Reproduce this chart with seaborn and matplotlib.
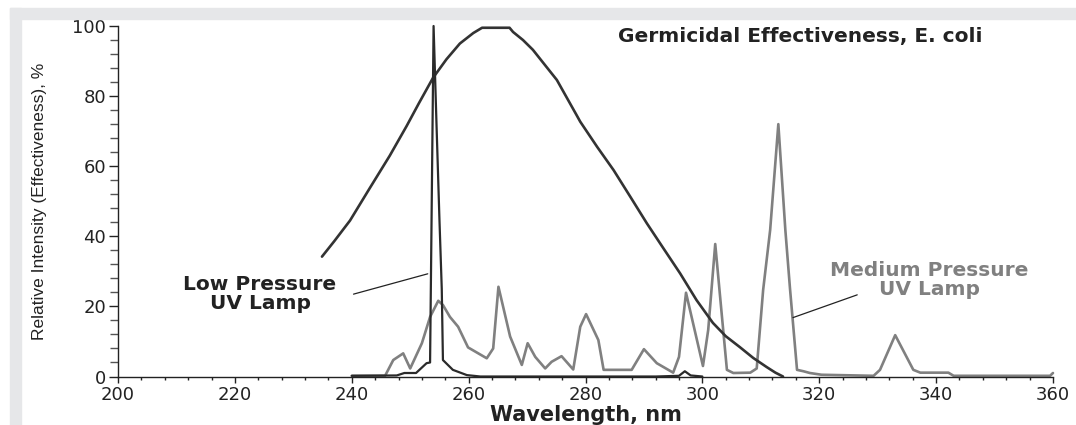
import matplotlib
matplotlib.use("Agg")
import matplotlib.pyplot as plt
from matplotlib import font_manager
from matplotlib.patches import Rectangle
from matplotlib.ticker import MultipleLocator
import seaborn as sns

# Germicidal effectiveness curve (E. coli)
germ_wl = [234.9, 237.0, 239.7, 243.1, 246.5, 249.4, 251.5, 253.9, 256.2, 258.5,
           260.8, 262.3, 267.0, 267.6, 269.3, 271.0, 273.0, 275.1, 278.5, 279.1,
           282.0, 284.8, 287.7, 290.5, 293.4, 296.2, 299.0, 301.8, 304.0, 306.4,
           308.7, 311.0, 312.5, 313.8]
germ_val = [34.2, 38.6, 44.5, 53.8, 63.0, 71.5, 78.0, 85.2, 90.5, 95.0,
            98.0, 99.5, 99.5, 98.3, 96.0, 93.2, 89.0, 84.6, 74.5, 72.7,
            65.5, 58.9, 51.2, 43.7, 36.4, 29.4, 21.8, 15.3, 11.5, 8.4,
            5.3, 2.7, 1.1, 0.0]

# Low pressure UV lamp
low_wl = [240.0, 247.7, 249.0, 251.0, 252.8, 253.4, 254.0, 254.5, 255.0, 255.4,
          255.6, 257.3, 259.7, 262.0, 272.0, 292.0, 296.0, 297.0, 298.0, 300.0]
low_val = [0.2, 0.3, 1.0, 1.0, 3.8, 4.0, 100.0, 72.0, 45.0, 25.0,
           4.7, 1.9, 0.4, 0.0, 0.0, 0.0, 0.2, 1.5, 0.3, 0.0]

# Medium pressure UV lamp
med_wl = [240.0, 245.7, 247.1, 248.8, 250.0, 252.0, 253.4, 254.8, 255.6, 256.8,
          258.2, 259.9, 263.1, 264.2, 265.1, 267.1, 269.1, 270.1, 271.4, 273.1,
          274.2, 275.9, 277.9, 279.1, 280.1, 282.2, 283.1, 287.9, 290.0, 292.2,
          295.0, 296.0, 297.2, 300.1, 301.0, 302.2, 303.3, 304.2, 305.3, 308.2,
          309.3, 310.4, 311.6, 313.0, 314.2, 315.0, 316.2, 317.3, 318.4, 320.4,
          329.3, 330.4, 333.0, 336.1, 337.3, 342.1, 343.0, 359.5, 360.0]
med_val = [0.2, 0.2, 4.7, 6.6, 2.3, 9.5, 17.0, 21.6, 20.4, 17.0,
           14.2, 8.3, 5.2, 8.0, 25.6, 11.4, 3.3, 9.5, 5.6, 2.3,
           4.2, 5.8, 2.0, 14.2, 17.8, 10.4, 1.9, 1.9, 7.8, 3.8,
           1.1, 5.6, 23.9, 3.0, 13.3, 37.8, 18.0, 1.9, 1.0, 1.1,
           2.3, 24.7, 41.8, 72.0, 41.8, 25.0, 1.9, 1.5, 1.0, 0.5,
           0.2, 1.9, 11.8, 1.9, 1.1, 1.1, 0.2, 0.2, 1.0]

sns.set_style("ticks")
plt.rcParams['font.family'] = ['DejaVu Sans']

# narrow font for the y label if we have it
installed = {f.name for f in font_manager.fontManager.ttflist}
if 'Liberation Sans Narrow' in installed:
    ylab_font, ylab_size = ['Liberation Sans Narrow', 'DejaVu Sans'], 15
else:
    ylab_font, ylab_size = ['Liberation Sans', 'DejaVu Sans'], 12.5

fig = plt.figure(figsize=(10.76, 4.25), dpi=100)
ax = fig.add_axes([0.1097, 0.1141, 0.8689, 0.8247])

# grey frame strips (top and left)
fig.patches.append(Rectangle((10 / 1076, 1 - 19 / 425), 1, 11 / 425,
                             transform=fig.transFigure, color='#e6e7e9', zorder=0))
fig.patches.append(Rectangle((10 / 1076, 0), 11 / 1076, 1 - 8 / 425,
                             transform=fig.transFigure, color='#e6e7e9', zorder=0))

sns.lineplot(x=med_wl, y=med_val, ax=ax, color='#808080', lw=1.9,
             estimator=None, sort=False)
sns.lineplot(x=germ_wl, y=germ_val, ax=ax, color='#333333', lw=1.9,
             estimator=None, sort=False)
sns.lineplot(x=low_wl, y=low_val, ax=ax, color='#2a2a2a', lw=1.6,
             estimator=None, sort=False)
for ln in ax.lines:
    ln.set_clip_on(False)

ax.set_xlim(200, 360)
ax.set_ylim(0, 100)
ax.xaxis.set_major_locator(MultipleLocator(20))
ax.xaxis.set_minor_locator(MultipleLocator(4))
ax.yaxis.set_major_locator(MultipleLocator(20))
ax.yaxis.set_minor_locator(MultipleLocator(4))

sns.despine(ax=ax)
for s in ['left', 'bottom']:
    ax.spines[s].set_color('#222222')
    ax.spines[s].set_linewidth(1.0)

ax.tick_params(axis='x', which='major', length=4.5, width=1.0, color='#222222',
               labelsize=13, labelcolor='#222222', pad=2)
ax.tick_params(axis='x', which='minor', length=2.5, width=1.0, color='#222222')
ax.tick_params(axis='y', which='major', length=6.5, width=1.0, color='#222222',
               labelsize=13, labelcolor='#222222', pad=2)
ax.tick_params(axis='y', which='minor', length=5.5, width=1.0, color='#555555')

ax.set_xlabel('Wavelength, nm', fontsize=15, fontweight='bold', color='#222222',
              labelpad=1)
ax.set_ylabel('Relative Intensity (Effectiveness), %', fontsize=ylab_size,
              family=ylab_font, color='#222222')
ax.yaxis.set_label_coords(-0.076, 0.5)

ax.text(316.7, 97.1, 'Germicidal Effectiveness, E. coli', fontsize=14.5,
        fontweight='bold', color='#222222', ha='center', va='center')
ax.text(224.3, 23.4, 'Low Pressure\nUV Lamp', fontsize=14.5, fontweight='bold',
        color='#222222', ha='center', va='center', linespacing=1.0)
ax.text(338.9, 27.5, 'Medium Pressure\nUV Lamp', fontsize=14.5, fontweight='bold',
        color='#808080', ha='center', va='center', linespacing=1.0)

# pointer lines
ax.plot([240.3, 253.0], [23.5, 29.3], color='#222222', lw=0.9)
ax.plot([326.5, 315.5], [23.3, 16.8], color='#222222', lw=0.9)

fig.savefig('out.png', dpi=100)
